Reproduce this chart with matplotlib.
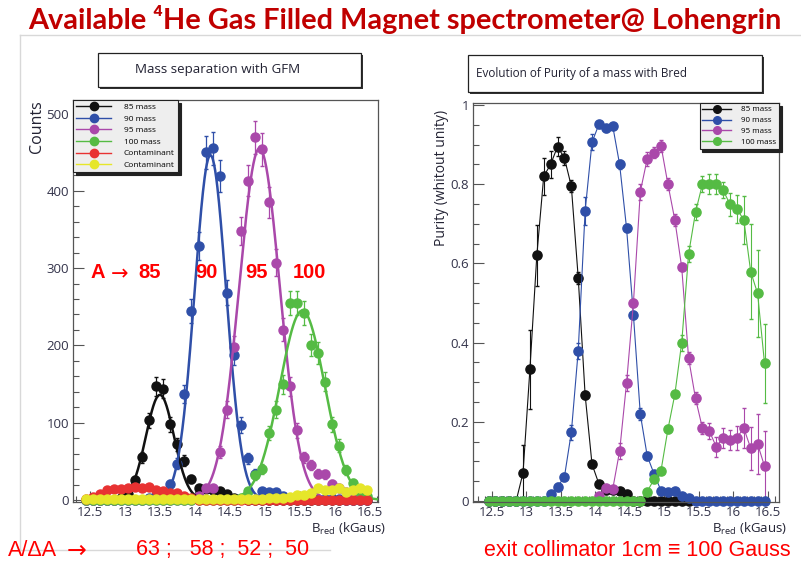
import numpy as np
import matplotlib.pyplot as plt
from matplotlib.lines import Line2D
from matplotlib.patches import Rectangle
from matplotlib.ticker import MultipleLocator

nan = np.nan

# bin centres in B_red (kGaus)
b_red = np.round(np.arange(12.45, 16.46, 0.1), 2)

# mass separation with the GFM: counts per bin
counts_85 = [0, 0, 0, 0, 0, 2, 8, 26, 55, 103,
             147, 144, 98, 72, 51, 27, 15, 14, 13, 12,
             8, 3, 1, 0, 0, 0, 0, 0, 0, 0,
             0, 0, 0, 0, 0, 0, 0, 0, 0, 0, 0]
counts_90 = [0, 0, 0, 0, 0, 0, 0, 0, 0, 3,
             6, 10, 21, 47, 137, 244, 329, 450, 455, 419,
             268, 188, 97, 54, 34, 11, 10, 10, 5, 3,
             2, 2, 2, 1, 1, 1, 1, 0, 0, 0, 0]
counts_95 = [0, 0, 0, 0, 0, 0, 0, 0, 0, 0,
             0, 0, 0, 0, 0, 0, 5, 15, 15, 62,
             117, 198, 348, 413, 469, 454, 385, 307, 220, 147,
             90, 55, 45, 34, 33, 21, 16, 10, 5, 3, 2]
counts_100 = [0, 0, 0, 0, 0, 0, 0, 0, 0, 0,
              0, 0, 0, 0, 0, 0, 0, 0, 0, 0,
              0, 0, 3, 12, 32, 40, 87, 117, 150, 255,
              255, 242, 200, 190, 153, 98, 70, 39, 22, 10, 5]
counts_red = [1, 4, 8, 13, 14, 14, 15, 17, 16, 17,
              13, 11, 9, 9, 5, 2, 0, 0, 0, 0,
              0, 0, 0, 0, 0, 0, 0, 0, 0, 0,
              0, 0, 0, 0, 0, 0, 0, 0, 0, 0, 0]
counts_yellow = [1, 1, 1, 1, 1, 1, 1, 1, 1, 1,
                 1, 1, 1, 1, 1, 1, 1, 1, 1, 1,
                 1, 1, 1, 1, 1, 1, 2, 2, 3, 4,
                 6, 6, 9, 15, 13, 13, 15, 10, 13, 15, 13]

# gaussian fits: amplitude, mean (kGaus), sigma (kGaus)
fit_amp = [136, 446, 455, 245]
fit_mean = [13.50, 14.22, 14.92, 15.53]
fit_sigma = [0.20, 0.225, 0.29, 0.32]

# purity of each mass vs B_red
purity_85 = [0, 0, 0, 0, 0, .071, .333, .62, .82, .85,
             .895, .866, .795, .564, .268, .093, .043, .027, .027, .026,
             .018, 0, 0, 0, 0, 0, 0, 0, 0, 0,
             nan, nan, nan, nan, nan, nan, nan, nan, nan, nan, nan]
err_85 = [0, 0, 0, 0, 0, .07, .1, .077, .047, .034,
          .025, .017, .015, .015, .01, .006, .005, .005, .005, .005,
          .005, 0, 0, 0, 0, 0, 0, 0, 0, 0,
          0, 0, 0, 0, 0, 0, 0, 0, 0, 0, 0]
purity_90 = [0, 0, 0, 0, 0, 0, 0, 0, 0, .018,
             .036, .061, .173, .379, .732, .906, .951, .941, .947, .85,
             .69, .47, .219, .114, .068, .026, .022, .025, .013, .008,
             0, 0, 0, 0, 0, 0, 0, 0, 0, 0, 0]
err_90 = [0, 0, 0, 0, 0, 0, 0, 0, 0, .005,
          .01, .01, .02, .02, .035, .02, .008, .008, .008, .012,
          .01, .01, .015, .01, .008, .005, .005, .005, .005, .005,
          0, 0, 0, 0, 0, 0, 0, 0, 0, 0, 0]
purity_95 = [nan, nan, nan, nan, nan, nan, nan, nan, nan, nan,
             nan, nan, nan, nan, nan, nan, .013, .032, .03, .126,
             .297, .5, .781, .864, .88, .897, .8, .71, .59, .36,
             .259, .184, .177, .137, .16, .154, .16, .184, .133, .144, .088]
err_95 = [0, 0, 0, 0, 0, 0, 0, 0, 0, 0,
          0, 0, 0, 0, 0, 0, .005, .005, .005, .02,
          .02, .01, .02, .017, .015, .015, .015, .015, .01, .015,
          .015, .015, .02, .025, .025, .025, .03, .05, .055, .075, .09]
purity_100 = [0, 0, 0, 0, 0, 0, 0, 0, 0, 0,
              0, 0, 0, 0, 0, 0, 0, 0, 0, 0,
              0, 0, 0, .024, .055, .077, .181, .269, .40, .624,
              .729, .80, .80, .80, .785, .749, .737, .71, .579, .524, .348]
err_100 = [0, 0, 0, 0, 0, 0, 0, 0, 0, 0,
           0, 0, 0, 0, 0, 0, 0, 0, 0, 0,
           0, 0, 0, .005, .008, .01, .01, .01, .02, .02,
           .02, .02, .025, .025, .02, .03, .035, .06, .12, .11, .1]

mass_labels = ['85 mass', '90 mass', '95 mass', '100 mass']
colors = ['#111111', '#2f4fa8', '#aa48aa', '#55bb44']
red, yellow = '#e83232', '#e6e62a'

W, H = 801, 562


def fx(px):
    return px / W


def fy(py):
    return 1 - py / H


plt.rcParams['font.family'] = ['Open Sans', 'DejaVu Sans']
plt.rcParams['mathtext.fontset'] = 'custom'
plt.rcParams['mathtext.rm'] = 'Open Sans'

fig = plt.figure(figsize=(W / 100, H / 100), dpi=100)

# slide frame
frame_kw = dict(transform=fig.transFigure, color='#d8d8d8', lw=1)
fig.add_artist(Line2D([fx(20), fx(20)], [fy(35), fy(550)], **frame_kw))
fig.add_artist(Line2D([fx(20), 1], [fy(35), fy(35)], **frame_kw))
fig.add_artist(Line2D([fx(20), fx(330)], [fy(550), fy(550)], **frame_kw))

fig.text(fx(405), fy(19), 'Available \u2074He Gas Filled Magnet spectrometer@ Lohengrin',
         ha='center', va='center', fontsize=20.8, fontweight='bold',
         color='#c00000', family=['Lato', 'DejaVu Sans'])


def title_box(x0, y0, x1, y1, text, tx, ha, size):
    fig.add_artist(Rectangle((fx(x0 + 2), fy(y1 + 2)), fx(x1) - fx(x0), fy(y0) - fy(y1),
                             transform=fig.transFigure, facecolor='#333333',
                             edgecolor='none'))
    fig.add_artist(Rectangle((fx(x0), fy(y1)), fx(x1) - fx(x0), fy(y0) - fy(y1),
                             transform=fig.transFigure, facecolor='white',
                             edgecolor='#222222', lw=0.9))
    fig.text(fx(tx), fy((y0 + y1) / 2), text, ha=ha, va='center',
             fontsize=size, color='#222233')


title_box(98, 53, 361, 87, 'Mass separation with GFM', 218, 'center', 9.6)
title_box(468, 55, 762, 92, 'Evolution of Purity of a mass with Bred', 476, 'left', 8.5)


def style_axes(ax):
    for s in ax.spines.values():
        s.set_color('#555555')
        s.set_linewidth(0.9)
    ax.tick_params(which='both', direction='in', top=False, right=False,
                   color='#555555', labelcolor='#33334a', labelsize=9.5, width=0.8)
    ax.tick_params(which='major', length=8, pad=3)
    ax.tick_params(which='minor', length=4)
    ax.xaxis.set_major_locator(MultipleLocator(0.5))
    ax.xaxis.set_minor_locator(MultipleLocator(0.1))
    ax.set_xticks([12.5, 13, 13.5, 14, 14.5, 15, 15.5, 16, 16.5])
    ax.set_xticklabels(['12.5', '13', '13.5', '14', '14.5', '15', '15.5', '16', '16.5'])


# left: counts with gaussian fits
ax1 = fig.add_axes([fx(73), fy(502), fx(378) - fx(73), fy(100) - fy(502)])
style_axes(ax1)
ax1.set_xlim(12.26, 16.61)
ax1.set_ylim(-2.6, 517.5)
ax1.yaxis.set_major_locator(MultipleLocator(100))
ax1.yaxis.set_minor_locator(MultipleLocator(20))

series = [counts_85, counts_90, counts_95, counts_100]
for c, col in zip(series, colors):
    c = np.array(c, dtype=float)
    ax1.errorbar(b_red, c, yerr=np.sqrt(c), fmt='o', color=col, ms=6.5,
                 elinewidth=0.9, capsize=1.5, zorder=3, clip_on=False)
for c, col in zip([counts_red, counts_yellow], [red, yellow]):
    c = np.array(c, dtype=float)
    ax1.errorbar(b_red, c, yerr=np.sqrt(c), fmt='o', color=col, ms=6.5,
                 elinewidth=0.9, capsize=1.5, zorder=4, clip_on=False)
for a, m, s, col in zip(fit_amp, fit_mean, fit_sigma, colors):
    xs = np.linspace(m - 3.5 * s, m + 3.5 * s, 200)
    ax1.plot(xs, a * np.exp(-0.5 * ((xs - m) / s) ** 2), color=col, lw=1.8, zorder=3.5)

handles = [Line2D([], [], color=col, marker='o', ms=6, lw=1)
           for col in colors + [red, yellow]]
leg = ax1.legend(handles, mass_labels + ['Contaminant', 'Contaminant'],
                 loc='upper left', bbox_to_anchor=(0, 1), borderaxespad=0,
                 fontsize=6, handlelength=4.2, labelspacing=0.45,
                 fancybox=False, edgecolor='#222222', facecolor='#eeeeee',
                 framealpha=1, borderpad=0.4, handletextpad=1.5,
                 shadow={'color': '#222222', 'alpha': 1})
leg.get_frame().set_linewidth(0.8)
leg.set_zorder(6)

ax1.set_ylabel('Counts', fontsize=11.5, loc='top', color='#222233')
ax1.yaxis.set_label_coords(-0.092, 1.0)
ax1.set_xlabel('B$_{\\mathrm{red}}$ (kGaus)', fontsize=9.5, loc='right', color='#222233')
ax1.xaxis.set_label_coords(1.025, -0.047)

# right: purity
ax2 = fig.add_axes([fx(473), fy(502), fx(779) - fx(473), fy(103) - fy(502)])
style_axes(ax2)
ax2.set_xlim(12.225, 16.66)
ax2.set_ylim(-0.0025, 1.005)
ax2.yaxis.set_major_locator(MultipleLocator(0.2))
ax2.yaxis.set_minor_locator(MultipleLocator(0.05))
ax2.set_yticks([0, 0.2, 0.4, 0.6, 0.8, 1])
ax2.set_yticklabels(['0', '0.2', '0.4', '0.6', '0.8', '1'])

purities = [purity_85, purity_90, purity_95, purity_100]
errors = [err_85, err_90, err_95, err_100]
for p, e, col in zip(purities, errors, colors):
    ax2.errorbar(b_red, p, yerr=e, fmt='-o', color=col, ms=6.6, lw=0.8,
                 elinewidth=0.8, capsize=1.5, clip_on=False)

handles = [Line2D([], [], color=col, marker='o', ms=5.5, lw=1) for col in colors]
leg = ax2.legend(handles, mass_labels, loc='upper right', bbox_to_anchor=(1, 1),
                 borderaxespad=0, fontsize=5.8, handlelength=3.6,
                 labelspacing=0.4, fancybox=False, edgecolor='#222222',
                 facecolor='#eeeeee', framealpha=1, borderpad=0.35,
                 handletextpad=1.2, shadow={'color': '#222222', 'alpha': 1})
leg.get_frame().set_linewidth(0.8)
leg.set_zorder(6)

ax2.set_ylabel('Purity (whitout unity)', fontsize=10, loc='top', color='#222233')
ax2.yaxis.set_label_coords(-0.078, 0.982)
ax2.set_xlabel('B$_{\\mathrm{red}}$ (kGaus)', fontsize=9.5, loc='right', color='#222233')
ax2.xaxis.set_label_coords(1.025, -0.047)

# mass markers on the counts panel
mark_kw = dict(ha='center', va='center', fontsize=14.5, fontweight='bold',
               color='#ff0000', family=['Liberation Sans', 'DejaVu Sans'])
fig.text(fx(98), fy(273), 'A', **mark_kw)
fig.text(fx(120), fy(274), '\u2192', ha='center', va='center', fontsize=15,
         color='#ff0000', family='DejaVu Sans')
fig.text(fx(150), fy(273), '85', **mark_kw)
fig.text(fx(206), fy(273), '90', **mark_kw)
fig.text(fx(257), fy(273), '95', **mark_kw)
fig.text(fx(309), fy(273), '100', **mark_kw)

# bottom notes
note_kw = dict(va='center', fontsize=15.5, color='#ff0000',
               family=['Liberation Sans Narrow', 'Liberation Sans', 'DejaVu Sans'])
fig.text(fx(8), fy(550), 'A/\u0394A', ha='left', **note_kw)
fig.text(fx(77), fy(551), '\u2192', ha='center', va='center', fontsize=17,
         color='#ff0000', family='DejaVu Sans')
fig.text(fx(136), fy(550), '63 ;   58 ;  52 ;  50', ha='left', **note_kw)
fig.text(fx(484), fy(550), 'exit collimator 1cm \u2261 100 Gauss', ha='left', **note_kw)

fig.savefig('out.png', dpi=100)
